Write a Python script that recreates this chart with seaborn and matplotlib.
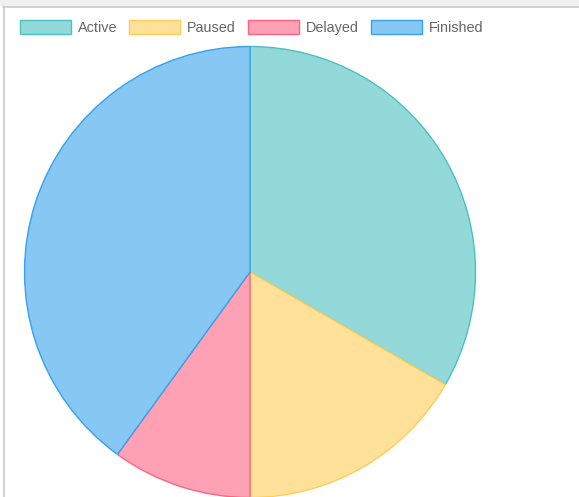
#!/usr/bin/env python3

import seaborn as sns
import matplotlib.pyplot as plt
from matplotlib.patches import Rectangle
from matplotlib.lines import Line2D

# Data
labels = ["Active", "Paused", "Delayed", "Finished"]
values = [10, 5, 3, 12]
fills = ["#93d9d9", "#ffe19a", "#ffa1b5", "#86c7f3"]
borders = ["#4bc0c0", "#ffcd56", "#ff6384", "#36a2eb"]

sns.set_theme(style="white")
plt.rcParams["font.family"] = ["Liberation Sans", "DejaVu Sans"]

W, H = 579, 497
fig = plt.figure(figsize=(W / 100, H / 100), dpi=100)
fig.patch.set_facecolor("white")

# page chrome: grey strip on top and panel border
fig.add_artist(Rectangle((0, 1 - 6 / H), 1, 6 / H, transform=fig.transFigure,
                         facecolor="#f0f0f0", edgecolor="none"))
fig.add_artist(Line2D([3 / W, 1], [1 - 6.5 / H, 1 - 6.5 / H], transform=fig.transFigure,
                      color="#c8c8cc", lw=1.2))
fig.add_artist(Line2D([3.5 / W, 3.5 / W], [0, 1 - 6.5 / H], transform=fig.transFigure,
                      color="#c8c8cc", lw=1.2))

# pie axes: centre (250, 272) px, radius 225 px
cx, cy, r = 250, 272, 225.5
ax = fig.add_axes([(cx - r) / W, (H - cy - r) / H, 2 * r / W, 2 * r / H])
wedges, _ = ax.pie(values, colors=fills, startangle=90, counterclock=False,
                   radius=1, wedgeprops=dict(linewidth=1.0))
for w, ec in zip(wedges, borders):
    w.set_edgecolor(ec)
ax.set_xlim(-1, 1)
ax.set_ylim(-1, 1)
ax.axis("off")

handles = [Rectangle((0, 0), 1, 1, facecolor=f, edgecolor=e, lw=1)
           for f, e in zip(fills, borders)]
leg = fig.legend(handles, labels, ncol=4, frameon=False,
                 loc="upper left", bbox_to_anchor=(14 / W, 1 - 14 / H),
                 fontsize=10.4, handlelength=3.53, handleheight=1.1,
                 handletextpad=0.48, columnspacing=0.83, borderaxespad=0)
for t in leg.get_texts():
    t.set_color("#666666")

fig.savefig("out.png", dpi=100)
